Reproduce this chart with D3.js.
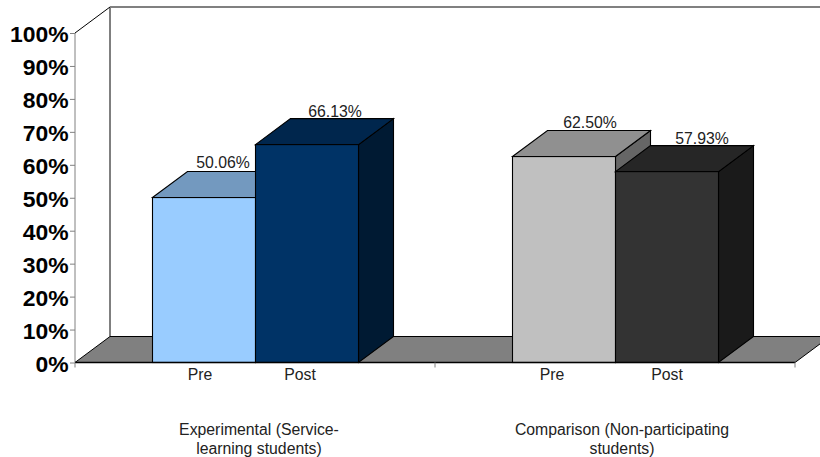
<!DOCTYPE html>
<html><head><meta charset="utf-8">
<script src="https://cdn.jsdelivr.net/npm/d3@7"></script>
<style>html,body{margin:0;padding:0;background:#fff}svg{display:block}text{font-family:"Liberation Sans",Arial,sans-serif}</style>
</head><body><svg id="c" width="820" height="457"></svg>
<script>
const groups = ["Experimental (Service-|learning students)", "Comparison (Non-participating|students)"];
const phases = ["Pre", "Post"];
const experimental = [50.06, 66.13];
const comparison = [62.50, 57.93];
const valueTicks = [0,10,20,30,40,50,60,70,80,90,100];
const frontColors = [["#99ccff","#003366"],["#c0c0c0","#333333"]];
const topColors = [["#7399bf","#00264d"],["#909090","#262626"]];
const sideColors = [["#5c7a99","#001a33"],["#666666","#1a1a1a"]];
const series = [experimental, comparison];

const svg = d3.select("#c");
const dx = 35, dy = -26;
const y = d3.scaleLinear().domain([0,100]).range([362.5,33]);
const x0 = d3.scaleBand().domain(d3.range(groups.length)).range([75,795]);
const x1 = d3.scaleBand().domain(d3.range(phases.length)).range([77.5,283.5]);
const poly = pts => pts.map(p=>p.join(",")).join(" ");
const y0=y(0), y100=y(100), xL=x0.range()[0], xR=x0.range()[1];

// walls
svg.append("polygon").attr("points",poly([[xL,y0],[xL+dx,y0+dy],[xL+dx,y100+dy],[xL,y100]])).attr("fill","#fff").attr("stroke","none");
svg.append("line").attr("x1",xL).attr("x2",xL).attr("y1",y100).attr("y2",y0).attr("stroke","#808080").attr("stroke-width",1);
svg.append("line").attr("x1",xL).attr("x2",xL+dx).attr("y1",y100).attr("y2",y100+dy).attr("stroke","#000");
svg.append("line").attr("x1",xL+dx).attr("x2",xL+dx).attr("y1",y100+dy).attr("y2",y0+dy).attr("stroke","#000");
svg.append("line").attr("x1",xL+dx).attr("x2",xR+dx).attr("y1",y100+dy).attr("y2",y100+dy).attr("stroke","#808080").attr("stroke-width",2);
// floor
svg.append("polygon").attr("points",poly([[xL,y0],[xL+dx,y0+dy],[xR+dx,y0+dy],[xR,y0]])).attr("fill","#808080").attr("stroke","#000").attr("stroke-width",1);

// labels sit off-centre from the bars in the source
const valueNudge = [[19,-4],[28,-2],[26,-3],[35,-2]];
series.forEach((vals,g)=>{
  const cell = svg.append("g");
  vals.forEach((v,i)=>{
    const l = x0(g)+x1(i), r = l+x1.bandwidth(), t = y(v), b = y0;
    const s = cell.append("g").attr("stroke","#000").attr("stroke-width",1.1).attr("stroke-linejoin","miter");
    s.append("polygon").attr("points",poly([[r,t],[r+dx,t+dy],[r+dx,b+dy],[r,b]])).attr("fill",sideColors[g][i]);
    s.append("polygon").attr("points",poly([[l,t],[l+dx,t+dy],[r+dx,t+dy],[r,t]])).attr("fill",topColors[g][i]);
    s.append("rect").attr("x",l).attr("y",t).attr("width",r-l).attr("height",b-t).attr("fill",frontColors[g][i]);
    const n = valueNudge[g*2+i];
    svg.append("text").attr("class","val").attr("x",(l+r)/2+n[0]).attr("y",t+dy+n[1])
      .attr("text-anchor","middle").attr("font-size",15.8).attr("fill","#222").text(v.toFixed(2)+"%");
  });
});
svg.selectAll("text.val").raise();

// axis baseline & ticks
svg.append("line").attr("x1",xL).attr("x2",xR).attr("y1",y0).attr("y2",y0).attr("stroke","#000").attr("stroke-width",1.3);
const yAxis = d3.axisLeft(y).tickValues(valueTicks).tickFormat(d=>d+"%").tickSize(5).tickPadding(1.5);
const ya = svg.append("g").attr("transform",`translate(${xL},0)`).call(yAxis);
ya.select(".domain").remove();
ya.selectAll("line").attr("stroke","#808080");
ya.selectAll("text").attr("font-size",22.9).attr("font-weight","bold").attr("font-family",'"Liberation Sans"').attr("fill","#000").attr("dy","0.39em");
[0,1,2].forEach(k=>{
  const tx = k<2 ? x0(k) : xR;
  svg.append("line").attr("x1",tx).attr("x2",tx).attr("y1",y0).attr("y2",y0+5).attr("stroke","#808080");
});

const phaseNudge = [[-4,-7],[-12,0]];
groups.forEach((gn,g)=>{
  phases.forEach((p,i)=>{
    svg.append("text").attr("x",x0(g)+x1(i)+x1.bandwidth()/2+phaseNudge[g][i]).attr("y",380)
      .attr("text-anchor","middle").attr("font-size",15.8).attr("fill","#222").text(p);
  });
  gn.split("|").forEach((ln,j)=>{
    svg.append("text").attr("x",x0(g)+x0.bandwidth()/2+(g?7:4)).attr("y",435+j*19)
      .attr("text-anchor","middle").attr("font-size",15.8).attr("fill","#222").text(ln);
  });
});
</script></body></html>
